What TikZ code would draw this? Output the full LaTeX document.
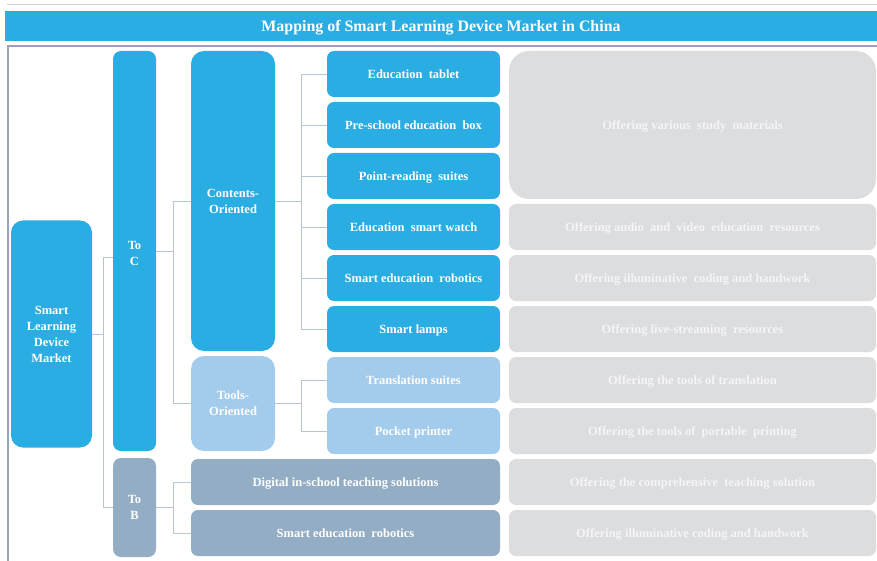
\documentclass[tikz,border=0pt]{standalone}
\usepackage{fontspec}
\setmainfont{Liberation Serif}
\definecolor{cBlue}{HTML}{2AADE3}
\definecolor{cLight}{HTML}{A3CBEC}
\definecolor{cSlate}{HTML}{93ADC4}
\definecolor{cGrey}{HTML}{DCDDDF}
\definecolor{cConn}{HTML}{B5C4D7}
\definecolor{cFrame}{HTML}{95A4B7}
\definecolor{cGText}{HTML}{F5F5F6}
\tikzset{
  base/.style={inner sep=0pt, align=center, text=white,
    font=\bfseries\fontsize{12.5}{16}\selectfont},
  bluebox/.style={base, fill=cBlue, rounded corners=7pt},
  lightbox/.style={base, fill=cLight, rounded corners=7pt},
  slatebox/.style={base, fill=cSlate, rounded corners=7pt},
  greybox/.style={base, fill=cGrey, rounded corners=7pt, text=cGText},
  oneline/.style={text height=9.5pt, text depth=0pt},
  item/.style={oneline, minimum width=173pt, minimum height=46pt},
  wide/.style={oneline, minimum width=309pt, minimum height=46pt},
  desc/.style={oneline, minimum width=367pt, minimum height=46pt},
  conn/.style={draw=cConn, line width=0.9pt},
}
\newcommand{\dsp}{\ \ }
\begin{document}
\begin{tikzpicture}[x=1pt, y=-1pt]
\useasboundingbox (0,0) rectangle (877,561);
% top rule and frame
\draw[cGrey!85!gray, line width=1pt] (7,5) -- (877,5);
\node[base, fill=cBlue, minimum width=872pt, minimum height=30pt, text height=11pt, text depth=0pt,
  font=\bfseries\fontsize{15.9}{18}\selectfont] (title) at (441,26)
  {Mapping of Smart Learning Device Market in China};
\draw[cFrame, line width=1.1pt] (877,46) -- (8,46) -- (8,561);
% level 1
\node[bluebox, rounded corners=12pt, minimum width=81pt, minimum height=227pt] (sldm) at (51.5,334)
  {Smart\\Learning\\Device\\Market};
% level 2
\node[bluebox, rounded corners=8pt, minimum width=43pt, minimum height=400pt] (toc) at (134.5,251) {};
\node[base] (toclab) at (134.5,253) {To\\C};
\node[slatebox, rounded corners=8pt, minimum width=43pt, minimum height=99pt] (tob) at (134.5,507.5) {To\\B};
% level 3
\node[bluebox, rounded corners=13pt, minimum width=84pt, minimum height=300pt] (cont) at (233,201) {Contents-\\Oriented};
\node[lightbox, rounded corners=13pt, minimum width=84pt, minimum height=95pt] (tools) at (233,403.5) {Tools-\\Oriented};
\node[slatebox, wide] (dig) at (345.5,482) {Digital in-school teaching solutions};
\node[slatebox, wide] (rob) at (345.5,533) {Smart education\dsp robotics};
% level 4
\node[bluebox, item] (i1) at (413.5,74) {Education\dsp tablet};
\node[bluebox, item] (i2) at (413.5,125) {Pre-school education\dsp box};
\node[bluebox, item] (i3) at (413.5,176) {Point-reading\dsp suites};
\node[bluebox, item] (i4) at (413.5,227) {Education\dsp smart watch};
\node[bluebox, item] (i5) at (413.5,278) {Smart education\dsp robotics};
\node[bluebox, item] (i6) at (413.5,329) {Smart lamps};
\node[lightbox, item] (i7) at (413.5,380) {Translation suites};
\node[lightbox, item] (i8) at (413.5,431) {Pocket printer};
% descriptions
\node[greybox, oneline, rounded corners=20pt, minimum width=367pt, minimum height=148pt] (d1) at (692.5,125) {Offering various\dsp study\dsp materials};
\node[greybox, desc] (d4) at (692.5,227) {Offering audio\dsp and\dsp video\dsp education\dsp resources};
\node[greybox, desc] (d5) at (692.5,278) {Offering illuminative\dsp coding and handwork};
\node[greybox, desc] (d6) at (692.5,329) {Offering live-streaming\dsp resources};
\node[greybox, desc] (d7) at (692.5,380) {Offering the tools of translation};
\node[greybox, desc] (d8) at (692.5,431) {Offering the tools of\dsp portable\dsp printing};
\node[greybox, desc] (d9) at (692.5,482) {Offering the comprehensive\dsp teaching solution};
\node[greybox, desc] (d10) at (692.5,533) {Offering illuminative coding and handwork};
% connectors
\coordinate (b1t) at (103,257);
\coordinate (b1b) at (103,507.5);
\draw[conn] (b1t) -- (b1b);
\draw[conn] (sldm.east) -- (sldm.east -| b1t);
\draw[conn] (b1t) -- (b1t -| toc.west);
\draw[conn] (b1b) -- (tob.west);
\draw[conn] (toc.east) -- ++(18,0);
\draw[conn] (cont.west) -- ++(-17,0) |- (tools.west);
\draw[conn] (tob.east) -- ++(18,0);
\draw[conn] (dig.west) -- ++(-17,0) |- (rob.west);
\draw[conn] (cont.east) -- ++(27,0);
\draw[conn] (i1.west) -- ++(-25,0) |- (i6.west);
\foreach \n in {i2,i3,i4,i5} \draw[conn] (\n.west) -- ++(-25,0);
\draw[conn] (tools.east) -- ++(27,0);
\draw[conn] (i7.west) -- ++(-25,0) |- (i8.west);
\end{tikzpicture}
\end{document}
